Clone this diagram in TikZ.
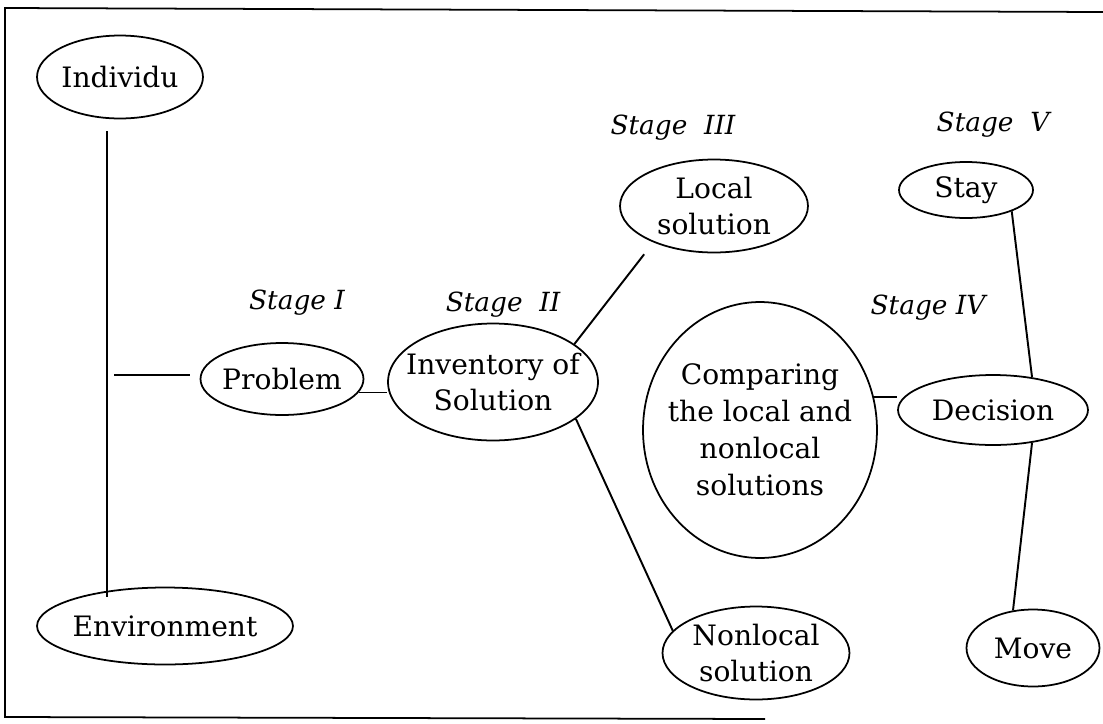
\documentclass[tikz,border=0pt]{standalone}
\usepackage{fontspec}
\setmainfont{DejaVu Serif}
\usetikzlibrary{shapes.geometric}

\begin{document}
\begin{tikzpicture}[
  x=0.02cm, y=-0.02cm,
  oval/.style={ellipse, draw=black, line width=1pt, inner sep=-0.6cm,
               font=\fontsize{16}{21}\selectfont, align=center},
  stagelbl/.style={font=\fontsize{15}{18}\selectfont\itshape},
  link/.style={draw=black, line width=1.1pt}
]
\useasboundingbox (0,0) rectangle (1103,724);
% Frame
\draw[line width=1pt] (1103,12) -- (5,8) -- (5,717) -- (765,719);

% Individual and environment
\node[oval, minimum width=3.32cm, minimum height=1.66cm] (ind) at (120,77) {Individu};
\node[oval, minimum width=5.12cm, minimum height=1.54cm] (env) at (165,626) {Environment};
\coordinate (spine) at (107,131);
\coordinate (stem) at (114,375);
\draw[link, shorten >=-0.2cm] (spine) -- (spine |- env.north);

% Stage I
\node[stagelbl] (s1) at (297,303) {Stage I};
\node[oval, minimum width=3.26cm, minimum height=1.44cm] (prob) at (282,379) {Problem};
\draw[link, shorten >=0.2cm] (stem) -- (stem -| prob.west);

% Stage II
\node[stagelbl] (s2) at (503,305) {Stage\ \ II};
\node[oval, minimum width=4.2cm, minimum height=2.34cm] (inv) at (493,382) {Inventory of\\Solution};
\draw[link] (prob.-10) -- (prob.-10 -| inv.west);

% Stage III
\node[stagelbl] (s3) at (673,128) {Stage\ \ III};
\node[oval, minimum width=3.76cm, minimum height=1.86cm] (loc) at (714,206) {Local\\solution};
\node[oval, minimum width=3.74cm, minimum height=1.86cm] (nonl) at (756,653) {Nonlocal\\solution};
\draw[link, shorten >=0.3cm] (inv.25) -- (loc.211);
\draw[link] (inv.-24) -- (nonl.165);

% Stage IV
\node[stagelbl] (s4) at (928,308) {Stage IV};
\node[oval, minimum width=4.68cm, minimum height=5.12cm] (cmp) at (760,430)
  {Comparing\\the local and\\nonlocal\\solutions};
\node[oval, minimum width=3.8cm, minimum height=1.4cm] (dec) at (993,410) {Decision};
\draw[link] (cmp.16) -- (cmp.16 -| dec.west);

% Stage V
\node[stagelbl] (s5) at (993,125) {Stage\ \ V};
\node[oval, minimum width=2.68cm, minimum height=1.12cm] (stay) at (966,190) {Stay};
\node[oval, minimum width=2.66cm, minimum height=1.54cm] (move) at (1033,648) {Move};
\draw[link] (stay.-25) -- (dec.40);
\draw[link] (dec.-40) -- (move.118);
\end{tikzpicture}
\end{document}
